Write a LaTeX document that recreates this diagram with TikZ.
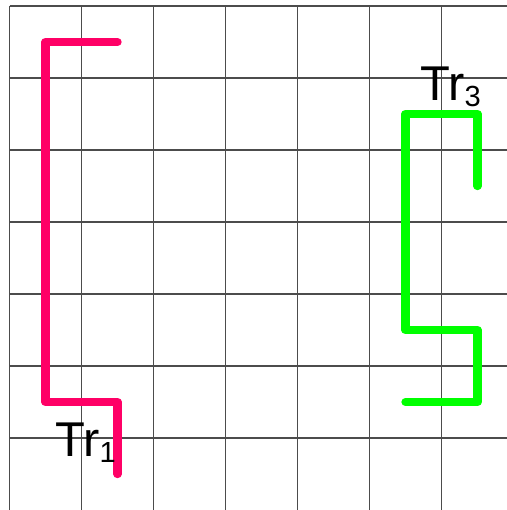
\documentclass[tikz,border=0pt]{standalone}
\usepackage{fontspec}
\setmainfont{Liberation Sans}
\usepackage{tikz}
\definecolor{trpink}{HTML}{FF0066}
\definecolor{trgreen}{HTML}{00FF00}
\tikzset{
  gridline/.style={line width=0.55pt, draw=black!70},
  trpath/.style={line width=3.3pt, line cap=round, line join=round},
  trlabel/.style={font=\fontsize{19.3}{23}\selectfont, inner sep=0pt, anchor=base west},
}
\newcommand{\trsub}[1]{\raisebox{-2.4pt}{\fontsize{11.5}{13}\selectfont #1}}

\begin{document}
\begin{tikzpicture}
\useasboundingbox (-0.132,-7.0) rectangle (6.896,0.083);
\draw[gridline] (0,-6.999) grid (7,0);
\draw[trpath, draw=trpink] (1.5,-0.5) -- (0.5,-0.5) -- (0.5,-5.5) -- (1.5,-5.5) -- (1.5,-6.5);
\draw[trpath, draw=trgreen] (6.5,-2.5) -- (6.5,-1.5) -- (5.5,-1.5) -- (5.5,-4.5) -- (6.5,-4.5) -- (6.5,-5.5) -- (5.5,-5.5);
\node[trlabel] (tr1) at (0.63,-6.26) {Tr\trsub{1}};
\node[trlabel] (tr3) at (5.70,-1.31) {Tr\trsub{3}};
\end{tikzpicture}
\end{document}
